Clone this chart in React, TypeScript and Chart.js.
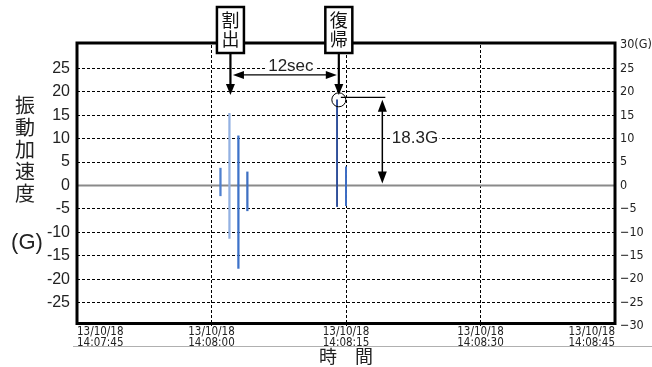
import React, { useEffect, useRef } from 'react';
import { Chart, registerables } from 'chart.js';

Chart.register(...registerables);

// ---- data ----
const xTickDates = ['13/10/18', '13/10/18', '13/10/18', '13/10/18', '13/10/18'];
const xTickTimes = ['14:07:45', '14:08:00', '14:08:15', '14:08:30', '14:08:45'];
const xMinSec = 0;
const xMaxSec = 60;
const xStepSec = 15;
const yMin = -30;
const yMax = 30;
const yStep = 5;

// spikes around the "割出" event (seconds from 14:07:45, G)
const cutSpikeSec = [16, 17, 18, 19];
const cutSpikeLow = [-2.2, -11.3, -17.7, -5.4];
const cutSpikeHigh = [3.7, 15.4, 10.6, 2.9];
const cutSpikeColors = ['#4f80cf', '#93b1e2', '#3d72c9', '#3f70c2'];

// spikes around the "復帰" event
const recSpikeSec = [29, 30];
const recSpikeLow = [-4.5, -4.3];
const recSpikeHigh = [18.3, 4.0];
const recSpikeColors = ['#2f4f9a', '#3b6cc4'];

// annotations
const cutLabel = ['割', '出'];
const recLabel = ['復', '帰'];
const cutMarkSec = 17;
const recMarkSec = 29.2;
const gapLevel = 23.6;
const gapLabel = '12sec';
const peakValue = 18.3;
const peakLabel = '18.3G';
const yTitleChars = ['振', '動', '加', '速', '度'];
const yUnit = '(G)';
const xTitle = '時　間';

const CJK = '"Noto Sans CJK JP", "Noto Sans CJK SC", sans-serif';
const NARROW = '"Liberation Sans Narrow", "DejaVu Sans Condensed", sans-serif';

function arrowHead(ctx: CanvasRenderingContext2D, tx: number, ty: number, dir: 'up' | 'down' | 'left' | 'right', len: number, hw: number) {
  ctx.beginPath();
  ctx.moveTo(tx, ty);
  if (dir === 'down') { ctx.lineTo(tx - hw, ty - len); ctx.lineTo(tx + hw, ty - len); }
  if (dir === 'up') { ctx.lineTo(tx - hw, ty + len); ctx.lineTo(tx + hw, ty + len); }
  if (dir === 'left') { ctx.lineTo(tx + len, ty - hw); ctx.lineTo(tx + len, ty + hw); }
  if (dir === 'right') { ctx.lineTo(tx - len, ty - hw); ctx.lineTo(tx - len, ty + hw); }
  ctx.closePath();
  ctx.fill();
}

function line(ctx: CanvasRenderingContext2D, x1: number, y1: number, x2: number, y2: number) {
  ctx.beginPath();
  ctx.moveTo(x1, y1);
  ctx.lineTo(x2, y2);
  ctx.stroke();
}

const annotPlugin = {
  id: 'annot',
  beforeDatasetsDraw(chart: any) {
    const { ctx, chartArea: a, scales } = chart;
    const y0 = scales.y.getPixelForValue(0);
    ctx.save();
    ctx.strokeStyle = '#8a8a8a';
    ctx.lineWidth = 2;
    line(ctx, a.left, y0, a.right, y0);
    ctx.restore();
  },
  afterDraw(chart: any) {
    const { ctx, chartArea: a, scales } = chart;
    const xs = scales.x;
    const ys = scales.y;
    ctx.save();

    // plot frame
    ctx.strokeStyle = '#000';
    ctx.lineWidth = 3;
    ctx.strokeRect(a.left, a.top - 2, a.right - a.left, a.bottom - a.top - 0.5);

    // light line under x labels
    ctx.strokeStyle = '#b0b0b0';
    ctx.lineWidth = 1;
    line(ctx, 73, 346.5, 652, 346.5);

    // event boxes
    const drawBox = (cx: number, chars: string[]) => {
      ctx.fillStyle = '#fff';
      ctx.fillRect(cx - 13.5, 7, 27, 46);
      ctx.strokeStyle = '#000';
      ctx.lineWidth = 2.5;
      ctx.strokeRect(cx - 13.5, 7, 27, 46);
      ctx.fillStyle = '#111';
      ctx.font = `18px ${CJK}`;
      ctx.textAlign = 'center';
      ctx.textBaseline = 'middle';
      ctx.fillText(chars[0], cx, 20.5);
      ctx.fillText(chars[1], cx, 39.5);
      // arrow down
      ctx.lineWidth = 2.2;
      line(ctx, cx, 54, cx, 88);
      ctx.fillStyle = '#000';
    };
    const cutX = xs.getPixelForValue(cutMarkSec) + 1;
    const recX = xs.getPixelForValue(recMarkSec);
    drawBox(cutX, cutLabel);
    arrowHead(ctx, cutX, 95, 'down', 11, 4.5);
    drawBox(recX, recLabel);
    arrowHead(ctx, recX, 95, 'down', 11, 4.5);

    // 12sec arrow
    const gy = ys.getPixelForValue(gapLevel);
    const gL = cutX + 2.5;
    const gR = recX - 2;
    ctx.strokeStyle = '#000';
    ctx.lineWidth = 1.2;
    line(ctx, gL + 6, gy, gR - 6, gy);
    arrowHead(ctx, gL, gy, 'left', 11, 4);
    arrowHead(ctx, gR, gy, 'right', 11, 4);
    ctx.font = '17px "Liberation Sans", Arial, sans-serif';
    ctx.textAlign = 'center';
    ctx.textBaseline = 'middle';
    const gx = (gL + gR) / 2 + 6;
    const gw = ctx.measureText(gapLabel).width;
    ctx.fillStyle = '#fff';
    ctx.fillRect(gx - gw / 2 - 2, gy - 16, gw + 4, 13);
    ctx.fillStyle = '#222';
    ctx.fillText(gapLabel, gx, gy - 8.5);

    // peak circle and 18.3G dimension
    const py = ys.getPixelForValue(peakValue);
    ctx.strokeStyle = '#000';
    ctx.lineWidth = 1;
    ctx.beginPath();
    ctx.arc(recX, py, 7, 0, Math.PI * 2);
    ctx.stroke();
    const dx = recX + 43.5;
    ctx.lineWidth = 1.2;
    line(ctx, recX + 2, py - 2.5, dx + 3, py - 2.5);
    const zy = ys.getPixelForValue(0) - 2;
    ctx.lineWidth = 1.5;
    line(ctx, dx, py + 8, dx, zy - 8);
    ctx.fillStyle = '#000';
    arrowHead(ctx, dx, py, 'up', 12, 4.5);
    arrowHead(ctx, dx, zy, 'down', 12, 4.5);
    ctx.font = '17px "Liberation Sans", Arial, sans-serif';
    ctx.textAlign = 'left';
    const pw = ctx.measureText(peakLabel).width;
    const pty = ys.getPixelForValue(10.1);
    ctx.fillStyle = '#fff';
    ctx.fillRect(dx + 8, pty - 8, pw + 3, 16);
    ctx.fillStyle = '#222';
    ctx.fillText(peakLabel, dx + 9.5, pty + 0.5);

    // y title
    ctx.fillStyle = '#222';
    ctx.font = `20px ${CJK}`;
    ctx.textAlign = 'center';
    yTitleChars.forEach((c, i) => ctx.fillText(c, 25, 105 + i * 22.2));
    ctx.font = '22px "Liberation Sans", Arial, sans-serif';
    ctx.fillText(yUnit, 27, 243);

    // x title
    ctx.font = `18px ${CJK}`;
    ctx.fillText(xTitle, 346, 356);

    ctx.restore();
  },
};

export default function App() {
  const ref = useRef<HTMLCanvasElement | null>(null);

  useEffect(() => {
    if (!ref.current) return;
    const chart = new Chart(ref.current, {
      type: 'bar',
      data: {
        datasets: [
          {
            label: '割出',
            data: cutSpikeSec.map((s, i) => ({ x: s, y: [cutSpikeLow[i], cutSpikeHigh[i]] })) as any,
            backgroundColor: cutSpikeColors,
            barThickness: 1.6,
            grouped: false,
          } as any,
          {
            label: '復帰',
            data: recSpikeSec.map((s, i) => ({ x: s, y: [recSpikeLow[i], recSpikeHigh[i]] })) as any,
            backgroundColor: recSpikeColors,
            barThickness: 1.3,
            grouped: false,
          } as any,
        ],
      },
      options: {
        animation: false,
        responsive: false,
        devicePixelRatio: 1,
        layout: { padding: { top: 45, left: 0, right: 0, bottom: 0 } },
        plugins: { legend: { display: false }, tooltip: { enabled: false } },
        scales: {
          x: {
            type: 'linear',
            min: xMinSec,
            max: xMaxSec,
            offset: false,
            afterBuildTicks: (s: any) => {
              s.ticks = xTickTimes.map((_, i) => ({ value: xMinSec + i * xStepSec }));
            },
            afterFit: (s: any) => { s.height = 41; },
            grid: {
              offset: false,
              drawTicks: false,
              lineWidth: 1,
              color: (c: any) => (c.tick && c.tick.value > xMinSec && c.tick.value < xMaxSec ? '#000' : 'rgba(0,0,0,0)'),
            },
            border: { display: false, dash: [3, 2] },
            ticks: {
              autoSkip: false,
              maxRotation: 0,
              align: 'inner',
              padding: 1,
              color: '#222',
              font: { family: NARROW, size: 11.5, lineHeight: 0.95 },
              callback: (v: any) => {
                const i = Math.round((Number(v) - xMinSec) / xStepSec);
                return [xTickDates[i], xTickTimes[i]];
              },
            },
          } as any,
          y: {
            type: 'linear',
            position: 'left',
            min: yMin,
            max: yMax,
            afterFit: (s: any) => { s.width = 77; },
            grid: {
              drawTicks: false,
              lineWidth: 1,
              color: (c: any) => (c.tick && c.tick.value !== 0 && Math.abs(c.tick.value) < yMax ? '#000' : 'rgba(0,0,0,0)'),
            },
            border: { display: false, dash: [3, 2] },
            ticks: {
              stepSize: yStep,
              padding: 7,
              color: '#222',
              font: { family: '"Liberation Sans", Arial, sans-serif', size: 16 },
              callback: (v: any) => (Math.abs(Number(v)) >= yMax ? '' : String(v)),
            },
          } as any,
          y2: {
            type: 'linear',
            position: 'right',
            min: yMin,
            max: yMax,
            afterFit: (s: any) => { s.width = 37; },
            grid: { display: false, drawTicks: false },
            border: { display: false },
            ticks: {
              stepSize: yStep,
              padding: 5,
              color: '#222',
              font: { family: NARROW, size: 12.5 },
              callback: (v: any) => {
                const n = Number(v);
                if (n === yMax) return `${n}(G)`;
                return n < 0 ? `−${Math.abs(n)}` : String(n);
              },
            },
          } as any,
        },
      },
      plugins: [annotPlugin],
    });
    return () => chart.destroy();
  }, []);

  return (
    <div style={{ position: 'fixed', left: 0, top: 0, width: 652, height: 367, background: '#fff' }}>
      <canvas ref={ref} width={652} height={367} style={{ width: 652, height: 367, display: 'block' }} />
    </div>
  );
}
